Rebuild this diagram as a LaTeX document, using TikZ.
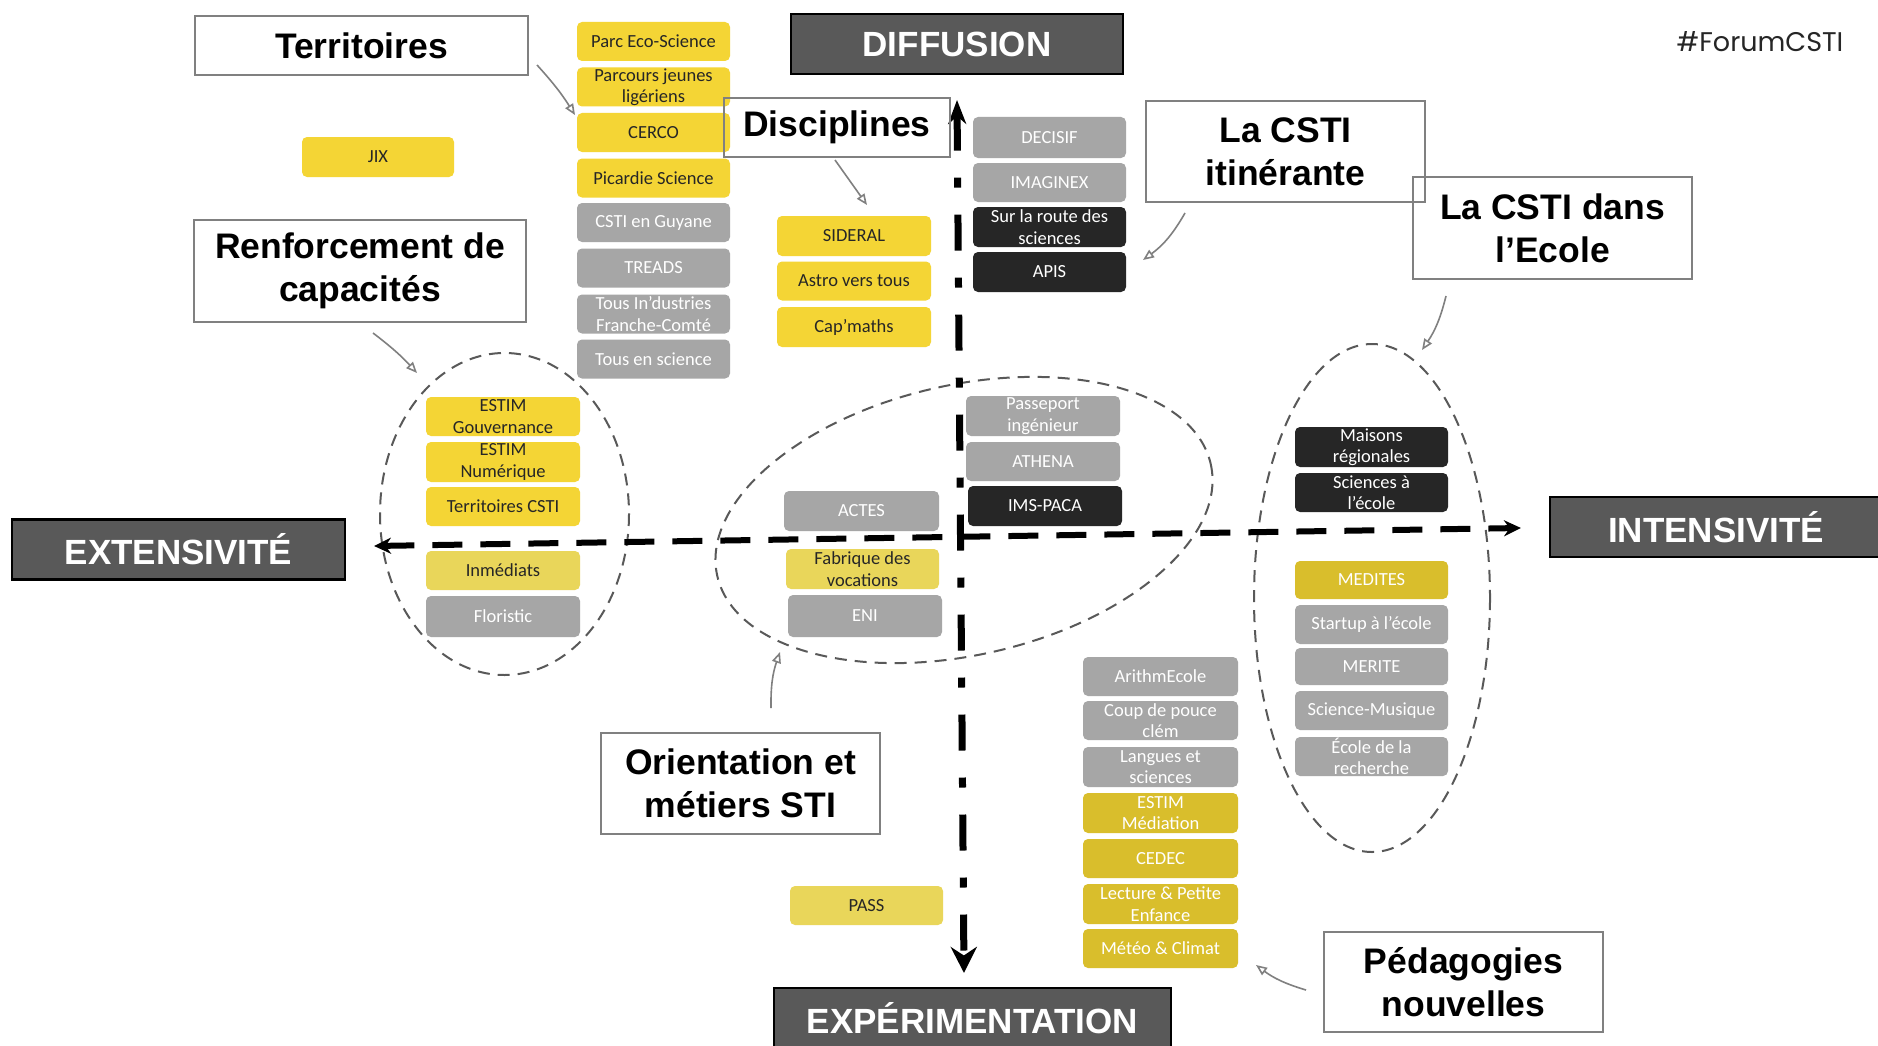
\documentclass[tikz,border=0pt]{standalone}
\usepackage{fontspec}
\setmainfont{Liberation Sans}
\newfontfamily\boxfont{Carlito}
\newfontfamily\tagfont{Poppins}
\usetikzlibrary{arrows.meta}
\definecolor{ybright}{HTML}{F4D535}
\definecolor{ymuted}{HTML}{E9D65A}
\definecolor{ymust}{HTML}{D9BE2C}
\definecolor{gbox}{HTML}{A6A6A6}
\definecolor{bbox}{HTML}{262626}
\definecolor{axfill}{HTML}{595959}
\definecolor{lblline}{HTML}{808080}
\definecolor{txtdark}{HTML}{262626}
\begin{document}
\begin{tikzpicture}[x=1pt,y=-1pt,
  item/.style={rounded corners=5pt, minimum width=153pt, minimum height=39pt, inner sep=0pt, align=center, font=\boxfont\fontsize{18.5}{21.5}\selectfont},
  yb/.style={item, fill=ybright, text=txtdark},
  ym/.style={item, fill=ymuted, text=txtdark},
  yd/.style={item, fill=ymust, text=white},
  gb/.style={item, fill=gbox, text=white},
  bb/.style={item, fill=bbox, text=white},
  axbox/.style={draw=black, line width=2.5pt, fill=axfill, text=white, font=\bfseries\fontsize{35}{40}\selectfont, inner sep=0pt, minimum height=60pt},
  lbl/.style={draw=lblline, line width=2.5pt, font=\bfseries\fontsize{35.5}{43}\selectfont, align=center, inner sep=0pt},
  conn/.style={draw=lblline, line width=1.6pt, -{Triangle[open,length=11pt,width=9pt]}},
  oval/.style={draw=axfill, line width=2pt, dash pattern=on 12pt off 8pt},
]
\useasboundingbox (0,0) rectangle (1878,1046);
\clip (0,0) rectangle (1878,1046);
\fill[white] (0,0) rectangle (1878,1046);

% ellipses
\draw[oval] (504.5,514) ellipse [x radius=124.5, y radius=161];
\draw[oval, rotate around={12.8:(964,520)}] (964,520) ellipse [x radius=253, y radius=135];
\draw[oval] (1372,598) ellipse [x radius=118, y radius=254];

% axes
\coordinate (hl) at (374,546);
\coordinate (hr) at (1521,528);
\coordinate (vt) at (957,100);
\coordinate (vb) at (964,973);
\draw[line width=6pt, dash pattern=on 30pt off 18pt, {Stealth[length=17pt,width=16pt]}-{Stealth[length=17pt,width=16pt]}] (hl) -- (hr);
\draw[line width=7pt, dash pattern=on 36pt off 27pt on 10pt off 27pt, {Stealth[length=24pt,width=18pt]}-{Stealth[length=26pt,width=26pt]}] (vt) -- (vb);

% axis boxes
\node[axbox, minimum width=332pt] (diff) at (957,44) {DIFFUSION};
\node[axbox, minimum width=333pt] (ext) at (178.5,549.5) {EXTENSIVITÉ};
\node[axbox, minimum width=332pt] (int) at (1716,527) {INTENSIVITÉ};
\node[axbox, minimum width=397pt] (exp) at (972.5,1018) {EXPÉRIMENTATION};

% Territoires column
\node[yb] (pes) at (653.5,41.5) {Parc Eco-Science};
\node[yb] (pjl) at (653.5,87) {Parcours jeunes\\ligériens};
\node[yb] (cerco) at (653.5,132.5) {CERCO};
\node[yb] (pic) at (653.5,178) {Picardie Science};
\node[gb] (guy) at (653.5,222.5) {CSTI en Guyane};
\node[gb] (treads) at (653.5,268) {TREADS};
\node[gb] (tif) at (653.5,314) {Tous In’dustries\\Franche-Comté};
\node[gb] (tes) at (653.5,359) {Tous en science};
\node[yb, minimum width=152pt, minimum height=40pt] (jix) at (378,157) {JIX};

% Disciplines column
\node[yb, minimum width=154pt, minimum height=40pt] (sid) at (854,236) {SIDERAL};
\node[yb, minimum width=154pt] (astro) at (854,281) {Astro vers tous};
\node[yb, minimum width=154pt, minimum height=40pt] (cap) at (854,327) {Cap’maths};

% right of axis, top
\node[gb, minimum height=41pt] (dec) at (1049.5,137.5) {DECISIF};
\node[gb] (img) at (1049.5,182.5) {IMAGINEX};
\node[bb, minimum height=40pt] (route) at (1049.5,227) {Sur la route des\\sciences};
\node[bb, minimum height=40pt] (apis) at (1049.5,272) {APIS};

% middle ellipse
\node[gb, minimum width=154pt, minimum height=40pt] (pass) at (1043,416) {Passeport\\ingénieur};
\node[gb, minimum width=154pt] (ath) at (1043,461.5) {ATHENA};
\node[bb, minimum width=154pt, minimum height=40pt] (ims) at (1045,506) {IMS-PACA};
\node[gb, minimum width=155pt, minimum height=40pt] (actes) at (861.5,511) {ACTES};
\node[ym, minimum width=153pt, minimum height=40pt] (fab) at (862.5,569) {Fabrique des\\vocations};
\node[gb, minimum width=154pt, minimum height=42pt] (eni) at (865,616) {ENI};

% left ellipse
\node[yb, minimum width=154pt] (eg) at (503,416.5) {ESTIM\\Gouvernance};
\node[yb, minimum width=154pt, minimum height=40pt] (en) at (503,462) {ESTIM\\Numérique};
\node[yb, minimum width=154pt] (tc) at (503,506.5) {Territoires CSTI};
\node[ym, minimum width=154pt] (inm) at (503,570.5) {Inmédiats};
\node[gb, minimum width=154pt, minimum height=41pt] (flo) at (503,616.5) {Floristic};

% right ellipse
\node[bb, minimum height=40pt] (mais) at (1371.5,447) {Maisons\\régionales};
\node[bb] (sae) at (1371.5,492.5) {Sciences à\\l’école};
\node[yd, minimum height=38pt] (med) at (1371.5,580) {MEDITES};
\node[gb] (start) at (1371.5,624.5) {Startup à l’école};
\node[gb, minimum height=37pt] (merite) at (1371.5,666.5) {MERITE};
\node[gb] (smus) at (1371.5,710.5) {Science-Musique};
\node[gb] (ecr) at (1371.5,756.5) {École de la\\recherche};

% bottom right column
\node[gb, minimum width=155pt] (arith) at (1160.5,676.5) {ArithmEcole};
\node[gb, minimum width=155pt] (coup) at (1160.5,720.5) {Coup de pouce\\clém};
\node[gb, minimum width=155pt, minimum height=40pt] (lang) at (1160.5,767) {Langues et\\sciences};
\node[yd, minimum width=155pt, minimum height=40pt] (estm) at (1160.5,813) {ESTIM\\Médiation};
\node[yd, minimum width=155pt] (cedec) at (1160.5,858.5) {CEDEC};
\node[yd, minimum width=155pt, minimum height=40pt] (lect) at (1160.5,904) {Lecture \& Petite\\Enfance};
\node[yd, minimum width=155pt] (meteo) at (1160.5,948.5) {Météo \& Climat};

\node[ym, minimum width=153pt] (passn) at (866.5,905.5) {PASS};

% label boxes
\node[lbl, minimum width=333pt, minimum height=59pt] (terr) at (361.5,45.5) {Territoires};
\node[lbl, minimum width=332pt, minimum height=102pt] (renf) at (360,271) {Renforcement de\\capacités};
\node[lbl, minimum width=226pt, minimum height=59pt] (disc) at (837,127.5) {Disciplines};
\node[lbl, minimum width=279pt, minimum height=101pt] (itin) at (1285.5,151.5) {La CSTI\\itinérante};
\node[lbl, minimum width=279pt, minimum height=102pt] (ecole) at (1552.5,228) {La CSTI dans\\l’Ecole};
\node[lbl, minimum width=279pt, minimum height=101pt] (orient) at (740.5,783.5) {Orientation et\\métiers STI};
\node[lbl, minimum width=279pt, minimum height=100pt] (peda) at (1463.5,982) {Pédagogies\\nouvelles};

\node[font=\tagfont\fontsize{27}{30}\selectfont, text=black!85, inner sep=0pt] (tag) at (1760,42) {\#ForumCSTI};

% connectors
\coordinate (c1a) at (537,65);   \coordinate (c1b) at (575,115);
\coordinate (c2a) at (373,333);  \coordinate (c2b) at (417,373);
\coordinate (c3a) at (835,160);  \coordinate (c3b) at (867,205);
\coordinate (c4a) at (1185,213); \coordinate (c4b) at (1143,260);
\coordinate (c5a) at (1446,296); \coordinate (c5b) at (1422,350);
\coordinate (c6a) at (771,708);  \coordinate (c6b) at (780,652);
\coordinate (c7a) at (1306,990); \coordinate (c7b) at (1256,965);
\draw[conn] (c1a) to[bend left=5] (c1b);
\draw[conn] (c2a) to[bend left=5] (c2b);
\draw[conn] (c3a) -- (c3b);
\draw[conn] (c4a) to[bend left=12] (c4b);
\draw[conn] (c5a) to[bend left=10] (c5b);
\draw[conn] (c6a) to[bend left=10] (c6b);
\draw[conn] (c7a) to[bend left=10] (c7b);
\end{tikzpicture}
\end{document}
